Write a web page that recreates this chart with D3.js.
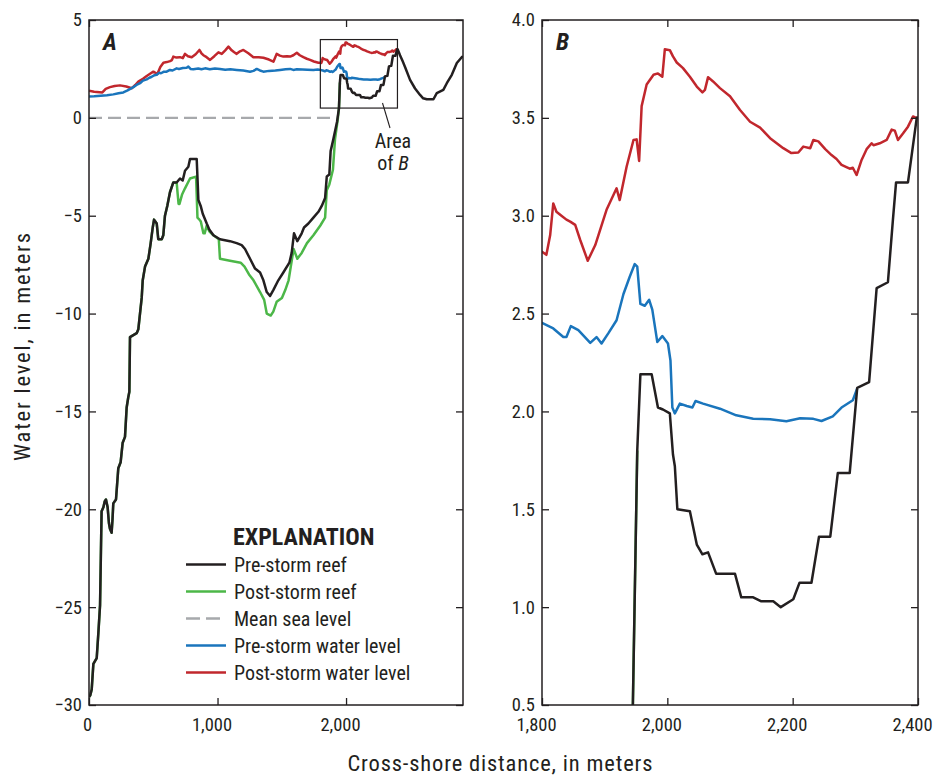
<!DOCTYPE html>
<html>
<head>
<meta charset="utf-8">
<script src="https://cdn.jsdelivr.net/npm/d3@7"></script>
<style>
  html, body { margin: 0; padding: 0; background: #fff; }
  svg { display: block; }
  text { font-family: "Roboto Condensed", "Open Sans", sans-serif; fill: #231f20; }
</style>
</head>
<body>
<svg id="chart" width="935" height="777"></svg>
<script>
// Fore-reef profile (0–682 m), unchanged between the two surveys: [distance m, elevation m]
const sharedReef = [[0,-29.6],[10,-29.5],[21,-29.2],[34,-27.9],[60,-27.6],[73,-26.3],[86,-24.9],[92,-22.5],[98,-20.1],[112,-19.9],[122,-19.6],[132,-19.5],[145,-19.9],[155,-20.7],[163,-21.0],[176,-21.2],[183,-20.5],[189,-19.7],[210,-19.5],[228,-17.9],[246,-17.6],[262,-16.6],[280,-16.3],[293,-14.8],[305,-14.3],[314,-14.0],[319,-11.2],[345,-11.1],[371,-11.0],[384,-10.8],[392,-10.3],[410,-9.2],[418,-8.3],[436,-7.6],[462,-7.2],[480,-6.4],[496,-5.6],[506,-5.2],[516,-5.3],[527,-5.4],[539,-6.2],[566,-6.2],[578,-6.0],[591,-5.0],[609,-4.5],[630,-3.8],[656,-3.3],[682,-3.3]];

// Pre-storm reef beyond 682 m
const preReefUpper = [[708,-3.1],[729,-3.2],[747,-2.7],[773,-2.5],[786,-2.1],[838,-2.1],[845,-3.2],[851,-4.2],[869,-4.5],[885,-4.9],[916,-5.4],[936,-5.7],[968,-6.0],[1019,-6.2],[1097,-6.3],[1149,-6.4],[1188,-6.5],[1214,-6.7],[1253,-7.2],[1292,-7.7],[1331,-7.9],[1357,-8.3],[1383,-8.9],[1409,-9.1],[1434,-8.8],[1473,-8.3],[1512,-7.9],[1559,-7.4],[1577,-6.9],[1595,-5.9],[1621,-6.3],[1655,-5.9],[1673,-5.6],[1707,-5.4],[1746,-5.1],[1785,-4.8],[1811,-4.5],[1837,-4.1],[1850,-3.0],[1870,-2.9],[1880,-1.7],[1901,-1.1],[1930,-0.2],[1945,0.5],[1952,1.8],[1957,2.19],[1975,2.19],[1985,2.02],[1993,2.01],[2004,1.99],[2009,1.78],[2012,1.72],[2016,1.50],[2036,1.49],[2047,1.32],[2056,1.27],[2065,1.28],[2078,1.17],[2108,1.17],[2118,1.05],[2137,1.05],[2150,1.03],[2169,1.03],[2181,1.00],[2201,1.04],[2211,1.125],[2230,1.125],[2242,1.36],[2260,1.36],[2272,1.685],[2291,1.685],[2303,2.12],[2322,2.15],[2334,2.63],[2352,2.66],[2360,2.98],[2365,3.17],[2384,3.17],[2398,3.5],[2402,3.5],[2420,3.2],[2440,2.9],[2459,2.6],[2498,1.94],[2537,1.5],[2576,1.17],[2600,1.0],[2628,0.95],[2680,0.95],[2706,1.26],[2757,1.43],[2784,1.77],[2823,2.2],[2862,2.8],[2900,3.1],[2910,3.15]];

// Post-storm reef beyond 682 m (rejoins the pre-storm profile at the reef crest)
const postReefUpper = [[690,-3.9],[697,-4.4],[704,-4.4],[725,-3.9],[747,-3.6],[786,-3.1],[833,-3.0],[844,-5.1],[859,-5.2],[870,-5.3],[890,-5.9],[900,-5.9],[916,-5.5],[936,-5.8],[968,-6.0],[1010,-6.2],[1019,-7.2],[1097,-7.3],[1180,-7.4],[1210,-7.6],[1245,-8.0],[1280,-8.3],[1331,-8.9],[1363,-9.3],[1383,-10.0],[1414,-10.1],[1434,-9.9],[1460,-9.4],[1501,-9.2],[1527,-8.8],[1553,-8.3],[1592,-6.7],[1621,-7.2],[1655,-6.9],[1696,-6.4],[1746,-6.0],[1800,-5.5],[1837,-5.1],[1850,-3.7],[1870,-3.4],[1898,-2.65],[1914,-1.1],[1935,-0.1],[1945,0.5],[1952,1.8]];

// Pre-storm water level
const preWater = [[0,1.09],[40,1.1],[91,1.13],[140,1.16],[189,1.2],[230,1.26],[267,1.3],[300,1.4],[345,1.57],[370,1.68],[397,1.77],[420,1.9],[449,1.97],[470,2.05],[488,2.1],[510,2.18],[527,2.2],[545,2.3],[560,2.28],[580,2.35],[604,2.36],[630,2.45],[650,2.42],[682,2.53],[700,2.5],[730,2.55],[760,2.56],[773,2.62],[790,2.5],[812,2.48],[850,2.52],[875,2.48],[903,2.53],[940,2.48],[980,2.52],[1019,2.5],[1060,2.46],[1100,2.48],[1149,2.45],[1200,2.42],[1253,2.36],[1280,2.4],[1305,2.5],[1330,2.42],[1357,2.36],[1400,2.4],[1450,2.42],[1487,2.45],[1530,2.48],[1565,2.5],[1590,2.45],[1617,2.48],[1660,2.47],[1700,2.46],[1746,2.45],[1780,2.47],[1800,2.452],[1818,2.424],[1834,2.38],[1839,2.38],[1846,2.436],[1858,2.415],[1877,2.35],[1887,2.38],[1895,2.347],[1906,2.4],[1919,2.466],[1930,2.6],[1940,2.688],[1948,2.753],[1952,2.74],[1957,2.55],[1964,2.54],[1971,2.57],[1976,2.52],[1984,2.355],[1992,2.385],[2001,2.347],[2005,2.26],[2008,2.02],[2012,1.99],[2020,2.04],[2031,2.028],[2040,2.02],[2045,2.053],[2057,2.04],[2084,2.014],[2110,1.98],[2137,1.963],[2164,1.96],[2190,1.95],[2212,1.965],[2233,1.962],[2246,1.951],[2264,1.975],[2278,2.02],[2296,2.057],[2303,2.117]];

// Post-storm water level
const postWater = [[0,1.39],[40,1.33],[104,1.3],[130,1.48],[163,1.57],[200,1.63],[241,1.66],[290,1.6],[332,1.51],[360,1.68],[384,1.85],[420,2.0],[449,2.14],[475,2.25],[501,2.36],[532,2.24],[555,2.6],[579,2.82],[605,2.85],[631,2.9],[645,2.95],[656,3.13],[680,3.08],[708,3.1],[730,3.05],[747,3.27],[770,3.15],[799,3.1],[830,3.25],[859,3.47],[875,3.3],[890,3.2],[915,3.1],[942,2.96],[975,3.15],[1007,3.35],[1033,3.27],[1060,3.45],[1085,3.64],[1110,3.45],[1130,3.35],[1149,3.27],[1175,3.4],[1201,3.47],[1240,3.3],[1279,3.1],[1320,3.1],[1357,3.07],[1400,2.98],[1435,2.87],[1460,3.27],[1485,3.18],[1512,3.13],[1540,3.15],[1565,3.13],[1590,3.2],[1617,3.33],[1640,3.2],[1668,3.1],[1695,3.02],[1720,2.96],[1750,2.88],[1785,2.82],[1800,2.816],[1807,2.80],[1813,2.9],[1818,3.063],[1823,3.02],[1831,3.0],[1839,2.98],[1845,2.97],[1853,2.953],[1861,2.876],[1873,2.77],[1885,2.85],[1898,2.98],[1903,3.03],[1919,3.14],[1924,3.08],[1935,3.25],[1946,3.387],[1951,3.39],[1955,3.28],[1959,3.56],[1967,3.67],[1978,3.72],[1985,3.727],[1992,3.71],[1996,3.85],[2004,3.846],[2009,3.814],[2015,3.783],[2025,3.754],[2036,3.71],[2047,3.66],[2056,3.63],[2060,3.643],[2065,3.708],[2073,3.686],[2084,3.652],[2100,3.61],[2116,3.54],[2132,3.48],[2148,3.45],[2164,3.396],[2185,3.345],[2198,3.32],[2209,3.323],[2217,3.353],[2228,3.345],[2233,3.387],[2241,3.38],[2252,3.34],[2262,3.31],[2270,3.29],[2278,3.26],[2291,3.24],[2296,3.245],[2302,3.208],[2310,3.285],[2318,3.34],[2326,3.37],[2329,3.36],[2339,3.37],[2350,3.387],[2358,3.44],[2363,3.435],[2368,3.387],[2376,3.42],[2384,3.455],[2392,3.507],[2397,3.5],[2400,3.5]];

// Mean sea level, from the offshore end to the reef face
const meanSeaLevel = [[0,0],[1905,0]];

// Axis ticks
const ticksAX = [0, 1000, 2000];
const ticksAXLabels = ["0", "1,000", "2,000"];
const ticksAY = [5, 0, -5, -10, -15, -20, -25, -30];
const ticksAYLabels = ["5", "0", "\u22125", "\u221210", "\u221215", "\u221220", "\u221225", "\u221230"];
const ticksBX = [1800, 2000, 2200, 2400];
const ticksBXLabels = ["1,800", "2,000", "2,200", "2,400"];
const ticksBY = [0.5, 1.0, 1.5, 2.0, 2.5, 3.0, 3.5, 4.0];
const ticksBYLabels = ["0.5", "1.0", "1.5", "2.0", "2.5", "3.0", "3.5", "4.0"];

// Inset extent of panel B
const areaB = { x0: 1800, x1: 2400, y0: 0.5, y1: 4.0 };

const legendLabels = ["Pre-storm reef", "Post-storm reef", "Mean sea level", "Pre-storm water level", "Post-storm water level"];

const colors = {
  preReef: "#231f20",
  postReef: "#4cb748",
  msl: "#a7a9ac",
  preWater: "#1a75bc",
  postWater: "#c1272d",
  frame: "#231f20"
};

const svg = d3.select("#chart");

const preReef = sharedReef.concat(preReefUpper);
const postReef = sharedReef.concat(postReefUpper);

function panel(opts) {
  const { left, right, top, bottom, xDomain, yDomain, id } = opts;
  const x = d3.scaleLinear().domain(xDomain).range([left, right]);
  const y = d3.scaleLinear().domain(yDomain).range([bottom, top]);
  const g = svg.append("g");

  g.append("clipPath").attr("id", id)
    .append("rect").attr("x", left).attr("y", top)
    .attr("width", right - left).attr("height", bottom - top);

  const line = d3.line().x(d => x(d[0])).y(d => y(d[1]));
  const plot = g.append("g").attr("clip-path", `url(#${id})`);

  plot.append("path").datum(meanSeaLevel).attr("d", line)
    .attr("fill", "none").attr("stroke", colors.msl).attr("stroke-width", 2.2)
    .attr("stroke-dasharray", "13,6");
  plot.append("path").datum(postWater).attr("d", line)
    .attr("fill", "none").attr("stroke", colors.postWater).attr("stroke-width", 2.5)
    .attr("stroke-linejoin", "round");
  plot.append("path").datum(preWater).attr("d", line)
    .attr("fill", "none").attr("stroke", colors.preWater).attr("stroke-width", 2.5)
    .attr("stroke-linejoin", "round");
  plot.append("path").datum(postReef).attr("d", line)
    .attr("fill", "none").attr("stroke", colors.postReef).attr("stroke-width", 2.5)
    .attr("stroke-linejoin", "round");
  plot.append("path").datum(preReef).attr("d", line)
    .attr("fill", "none").attr("stroke", colors.preReef).attr("stroke-width", 2.5)
    .attr("stroke-linejoin", "round");

  // Inward ticks on all four sides
  const tl = 7;
  const axB = d3.axisBottom(x).tickValues(opts.xTicks).tickSize(tl)
    .tickFormat((d, i) => opts.xLabels[i]);
  const axT = d3.axisTop(x).tickValues(opts.xTicks).tickSize(tl).tickFormat("");
  const axL = d3.axisLeft(y).tickValues(opts.yTicks).tickSize(tl)
    .tickFormat((d, i) => opts.yLabels[i]);
  const axR = d3.axisRight(y).tickValues(opts.yTicks).tickSize(tl).tickFormat("");

  const gb = g.append("g").attr("transform", `translate(0,${bottom})`).call(axB);
  gb.selectAll(".tick line").attr("y2", -tl);
  gb.selectAll(".tick text").attr("y", 13).attr("dy", "0.71em")
    .attr("x", (d, i) => opts.xLabels[i].length > 1 ? -6 : -2);
  const gt = g.append("g").attr("transform", `translate(0,${top})`).call(axT);
  gt.selectAll(".tick line").attr("y2", tl);
  const gl = g.append("g").attr("transform", `translate(${left},0)`).call(axL);
  gl.selectAll(".tick line").attr("x2", tl);
  gl.selectAll(".tick text").attr("x", -7);
  const gr = g.append("g").attr("transform", `translate(${right},0)`).call(axR);
  gr.selectAll(".tick line").attr("x2", -tl);

  [gb, gt, gl, gr].forEach(a => {
    a.select(".domain").remove();
    a.attr("font-family", null).attr("font-size", null);
    a.selectAll(".tick line").attr("stroke", colors.frame).attr("stroke-width", 1.3);
    a.selectAll(".tick text").style("font-size", "18.5px").attr("fill", "#231f20");
  });

  g.append("rect").attr("x", left).attr("y", top)
    .attr("width", right - left).attr("height", bottom - top)
    .attr("fill", "none").attr("stroke", colors.frame).attr("stroke-width", 1.5);

  g.append("text").attr("x", left + 14).attr("y", top + 30)
    .style("font-size", "24px").style("font-weight", "bold").style("font-style", "italic")
    .text(opts.letter);

  return { x, y, g };
}

const A = panel({
  id: "clipA", left: 89, right: 463, top: 20, bottom: 705,
  xDomain: [0, 2910], yDomain: [-30, 5],
  xTicks: ticksAX, xLabels: ticksAXLabels, yTicks: ticksAY, yLabels: ticksAYLabels,
  letter: "A"
});

const B = panel({
  id: "clipB", left: 542, right: 918, top: 20, bottom: 705,
  xDomain: [1800, 2400], yDomain: [0.5, 4.0],
  xTicks: ticksBX, xLabels: ticksBXLabels, yTicks: ticksBY, yLabels: ticksBYLabels,
  letter: "B"
});

// Box marking the extent of panel B inside panel A
A.g.append("rect")
  .attr("x", A.x(areaB.x0)).attr("y", A.y(areaB.y1))
  .attr("width", A.x(areaB.x1) - A.x(areaB.x0))
  .attr("height", A.y(areaB.y0) - A.y(areaB.y1))
  .attr("fill", "none").attr("stroke", colors.frame).attr("stroke-width", 1.2);
A.g.append("line")
  .attr("x1", 382.5).attr("y1", 103).attr("x2", 390).attr("y2", 128)
  .attr("stroke", colors.frame).attr("stroke-width", 1.1);
A.g.append("text").attr("x", 393).attr("y", 148).attr("text-anchor", "middle")
  .style("font-size", "20px").text("Area");
const ofB = A.g.append("text").attr("x", 393).attr("y", 170).attr("text-anchor", "middle")
  .style("font-size", "20px");
ofB.append("tspan").text("of ");
ofB.append("tspan").style("font-style", "italic").text("B");

// Legend
const leg = svg.append("g");
leg.append("text").attr("x", 233).attr("y", 545)
  .style("font-size", "24px").style("font-weight", "bold").text("EXPLANATION");
const legStyles = [
  { c: colors.preReef, dash: null },
  { c: colors.postReef, dash: null },
  { c: colors.msl, dash: "14,6" },
  { c: colors.preWater, dash: null },
  { c: colors.postWater, dash: null }
];
legendLabels.forEach((lab, i) => {
  const ly = 564.5 + i * 27;
  leg.append("line").attr("x1", 186).attr("x2", 226).attr("y1", ly).attr("y2", ly)
    .attr("stroke", legStyles[i].c).attr("stroke-width", 2.5)
    .attr("stroke-dasharray", legStyles[i].dash);
  leg.append("text").attr("x", 234).attr("y", ly + 7.5)
    .style("font-size", "20px").text(lab);
});

// Axis titles
svg.append("text")
  .attr("transform", "translate(30,347) rotate(-90)")
  .attr("text-anchor", "middle").style("font-size", "22.5px")
  .attr("textLength", 228).attr("lengthAdjust", "spacing")
  .text("Water level, in meters");
svg.append("text").attr("x", 500).attr("y", 771).attr("text-anchor", "middle")
  .style("font-size", "22.5px")
  .attr("textLength", 305).attr("lengthAdjust", "spacing")
  .text("Cross-shore distance, in meters");
</script>
</body>
</html>
